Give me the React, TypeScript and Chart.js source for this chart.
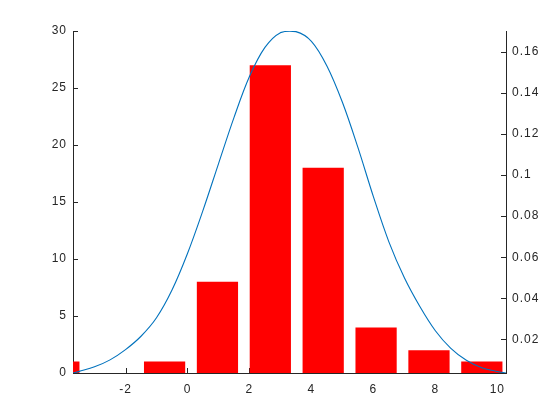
import React, { useEffect, useRef } from "react";
import { Chart, registerables } from "chart.js";

Chart.register(...registerables);

// Histogram (left axis)
const barCenters = [-4.152, -2.446, -0.739, 0.967, 2.674, 4.38, 6.087, 7.794, 9.5];
const barCounts = [1, 0, 1, 8, 27, 18, 4, 2, 1];

// Fitted density curve (right axis)
const curveX = [-3.695, -3.5, -3.0, -2.5, -2.0, -1.5, -1.0, -0.5, 0.0, 0.5, 1.0, 1.5, 2.0, 2.5, 3.0, 3.5, 4.0, 4.5, 5.0, 5.5, 6.0, 6.5, 7.0, 7.5, 8.0, 8.5, 9.0, 9.5, 10.0, 10.28];
const curveY = [0.0036, 0.0044, 0.0066, 0.01, 0.015, 0.0215, 0.0305, 0.044, 0.0618, 0.0828, 0.1055, 0.128, 0.148, 0.1622, 0.1694, 0.1699, 0.1652, 0.1532, 0.1355, 0.1135, 0.0895, 0.0675, 0.05, 0.036, 0.0242, 0.0156, 0.0098, 0.0062, 0.0043, 0.0036];

// Axis ticks / limits
const xTicks = [-2, 0, 2, 4, 6, 8, 10];
const leftTicks = [0, 5, 10, 15, 20, 25, 30];
const rightTicks = [0.02, 0.04, 0.06, 0.08, 0.1, 0.12, 0.14, 0.16];
const xLimits = [-3.695, 10.28];
const leftLimits = [0, 30];
const rightLimits = [0.0036, 0.1702];

const AXIS = "#262626";
const FONT = { family: "'Liberation Sans', Arial, Helvetica, sans-serif", size: 12 };

const innerTicks = {
  id: "innerTicks",
  beforeDraw(chart: any) {
    try { chart.ctx.letterSpacing = "1px"; } catch (e) {}
  },
  beforeDatasetsDraw(chart: any) {
    const { ctx, chartArea, scales } = chart;
    const len = 5;
    ctx.save();
    ctx.strokeStyle = AXIS;
    ctx.lineWidth = 1;
    ctx.beginPath();
    scales.x.ticks.forEach((t: any) => {
      const px = Math.round(scales.x.getPixelForValue(t.value)) + 0.5;
      ctx.moveTo(px, chartArea.bottom);
      ctx.lineTo(px, chartArea.bottom - len);
    });
    scales.y.ticks.forEach((t: any) => {
      const py = Math.round(scales.y.getPixelForValue(t.value)) + 0.5;
      ctx.moveTo(chartArea.left, py);
      ctx.lineTo(chartArea.left + len, py);
    });
    scales.y2.ticks.forEach((t: any) => {
      const py = Math.round(scales.y2.getPixelForValue(t.value)) + 0.5;
      ctx.moveTo(chartArea.right, py);
      ctx.lineTo(chartArea.right - len, py);
    });
    ctx.stroke();
    ctx.restore();
  },
};

export default function App() {
  const ref = useRef<HTMLCanvasElement | null>(null);

  useEffect(() => {
    if (!ref.current) return;
    const chart = new Chart(ref.current, {
      type: "bar",
      data: {
        datasets: [
          {
            type: "line",
            data: curveX.map((x, i) => ({ x, y: curveY[i] })),
            yAxisID: "y2",
            borderColor: "#0072BD",
            borderWidth: 1.1,
            pointRadius: 0,
            tension: 0.35,
            order: 0,
          } as any,
          {
            type: "bar",
            data: barCenters.map((x, i) => ({ x, y: barCounts[i] })),
            yAxisID: "y",
            backgroundColor: "#FF0000",
            borderWidth: 0,
            barPercentage: 0.78,
            categoryPercentage: 1,
            clip: 0,
            order: 1,
          } as any,
        ],
      },
      plugins: [innerTicks],
      options: {
        responsive: false,
        animation: false,
        events: [],
        layout: { padding: { top: 31, left: 0, right: 0, bottom: 0 } },
        plugins: { legend: { display: false }, tooltip: { enabled: false } },
        scales: {
          x: {
            type: "linear",
            min: xLimits[0],
            max: xLimits[1],
            offset: false,
            grid: { display: false, drawTicks: false },
            border: { display: true, color: AXIS, width: 1 },
            ticks: { color: AXIS, font: FONT, padding: 9, maxRotation: 0, callback: (v: any) => String(v) },
            afterBuildTicks: (s: any) => { s.ticks = xTicks.map((value) => ({ value })); },
            afterFit: (s: any) => { s.height = 47; },
          },
          y: {
            type: "linear",
            position: "left",
            min: leftLimits[0],
            max: leftLimits[1],
            grid: { display: false, drawTicks: false },
            border: { display: true, color: AXIS, width: 1 },
            ticks: { color: AXIS, font: FONT, padding: 6, callback: (v: any) => String(v) },
            afterBuildTicks: (s: any) => { s.ticks = leftTicks.map((value) => ({ value })); },
            afterFit: (s: any) => { s.width = 73; },
          },
          y2: {
            type: "linear",
            position: "right",
            min: rightLimits[0],
            max: rightLimits[1],
            grid: { display: false, drawTicks: false },
            border: { display: true, color: AXIS, width: 1 },
            ticks: { color: AXIS, font: FONT, padding: 6, callback: (v: any) => String(v) },
            afterBuildTicks: (s: any) => { s.ticks = rightTicks.map((value) => ({ value })); },
            afterFit: (s: any) => { s.width = 54; },
          },
        },
      } as any,
    });
    return () => chart.destroy();
  }, []);

  return (
    <div style={{ position: "fixed", left: 0, top: 0, width: 560, height: 420, background: "#fff" }}>
      <canvas ref={ref} width={560} height={420} style={{ width: 560, height: 420, display: "block" }} />
    </div>
  );
}
